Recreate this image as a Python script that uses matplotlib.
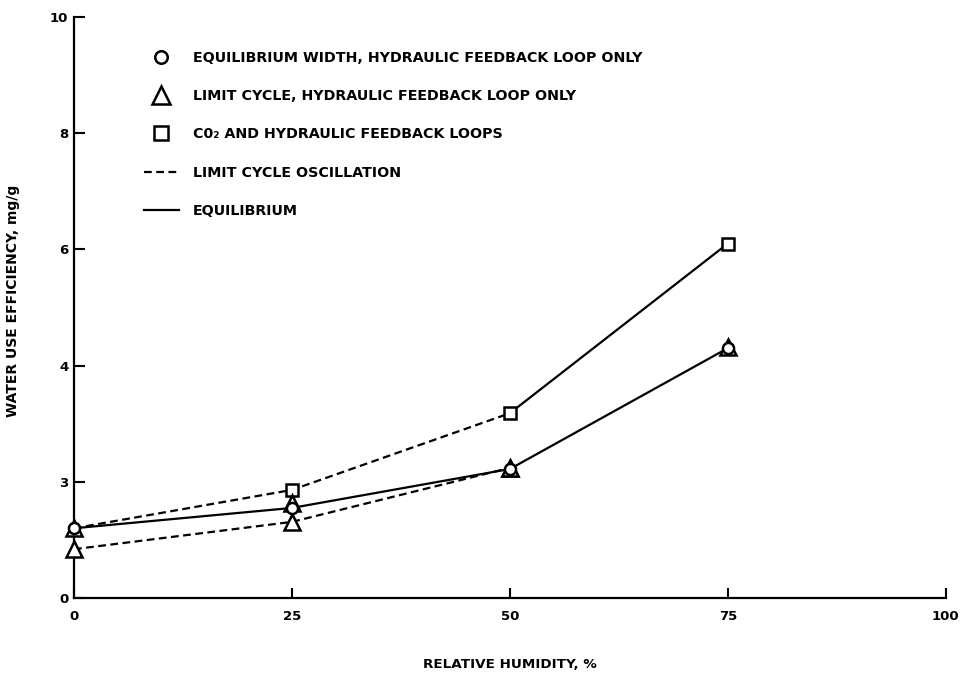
import matplotlib
matplotlib.use("Agg")
import matplotlib.pyplot as plt
from matplotlib.lines import Line2D

plt.rcParams['font.family'] = ['DejaVu Sans']
plt.rcParams['font.weight'] = 'bold'

# relative humidity, %
rh = [0, 25, 50, 75]
# equilibrium width, hydraulic feedback loop only (circles, solid)
eq_width = [1.20, 1.55, 2.22, 4.30]
# limit cycle, hydraulic loop only: upper and lower extremes (triangles)
lc_upper = [1.20, 1.63, 2.24, 4.32]
lc_lower = [0.84, 1.31, 2.24]
# CO2 and hydraulic feedback loops (squares)
co2 = [1.20, 1.86, 3.18, 6.10]

y_ticks = [0, 2, 4, 6, 8, 10]
y_ticklabels = ['0', '3', '4', '6', '8', '10']
x_ticks = [0, 25, 50, 75, 100]

fig = plt.figure(figsize=(9.68, 6.77), dpi=100)
ax = fig.add_axes([0.0764, 0.1167, 0.9006, 0.8582])

lw = 1.6
dash = (0, (3.5, 2))

# lines
ax.plot(rh, eq_width, color='black', lw=lw, zorder=2, clip_on=False)
ax.plot(rh[:3], lc_lower, color='black', lw=lw, linestyle=dash, zorder=2, clip_on=False)
ax.plot(rh[:3], co2[:3], color='black', lw=lw, linestyle=dash, zorder=2, clip_on=False)
ax.plot(rh[2:], co2[2:], color='black', lw=lw, zorder=2, clip_on=False)

# markers
mk = dict(linestyle='none', color='black', markerfacecolor='white', markeredgewidth=1.8)
ax.plot(rh[1:], co2[1:], marker='s', markersize=9, zorder=3, clip_on=False, **mk)
ax.plot(rh[:3], lc_lower, marker='^', markersize=12, zorder=3, clip_on=False, **mk)
ax.plot(rh, lc_upper, marker='^', markersize=12, zorder=3, clip_on=False, **mk)
ax.plot(rh, eq_width, marker='o', markersize=8, zorder=4, clip_on=False, **mk)

ax.set_xlim(0, 100)
ax.set_ylim(0, 10)
ax.set_xticks(x_ticks)
ax.set_xticklabels([str(v) for v in x_ticks])
ax.set_yticks(y_ticks)
ax.set_yticklabels(y_ticklabels)
ax.tick_params(axis='y', direction='in', length=8, width=1.5, pad=4, labelsize=9.5)
ax.tick_params(axis='x', direction='in', length=7, width=1.5, pad=9, labelsize=9.5)
for s in ['top', 'right']:
    ax.spines[s].set_visible(False)
for s in ['left', 'bottom']:
    ax.spines[s].set_linewidth(1.6)

ax.set_xlabel('RELATIVE HUMIDITY, %', fontsize=9.7, fontweight='bold', labelpad=25)
ax.set_ylabel('WATER USE EFFICIENCY, mg/g', fontsize=10, fontweight='bold')
ax.yaxis.set_label_coords(-0.062, 0.511)

handles = [
    Line2D([], [], marker='o', markersize=9, **mk),
    Line2D([], [], marker='^', markersize=13, **mk),
    Line2D([], [], marker='s', markersize=10, **mk),
    Line2D([], [], color='black', lw=lw, linestyle=dash),
    Line2D([], [], color='black', lw=lw),
]
labels = [
    'EQUILIBRIUM WIDTH, HYDRAULIC FEEDBACK LOOP ONLY',
    'LIMIT CYCLE, HYDRAULIC FEEDBACK LOOP ONLY',
    'C0\u2082 AND HYDRAULIC FEEDBACK LOOPS',
    'LIMIT CYCLE OSCILLATION',
    'EQUILIBRIUM',
]
ax.legend(handles, labels, loc='upper left', bbox_to_anchor=(0.074, 0.952),
          frameon=False, handlelength=2.4, handletextpad=1.0, labelspacing=1.7,
          prop={'size': 10.3, 'weight': 'bold'}, numpoints=1, borderaxespad=0)

fig.savefig('out.png', dpi=100)
